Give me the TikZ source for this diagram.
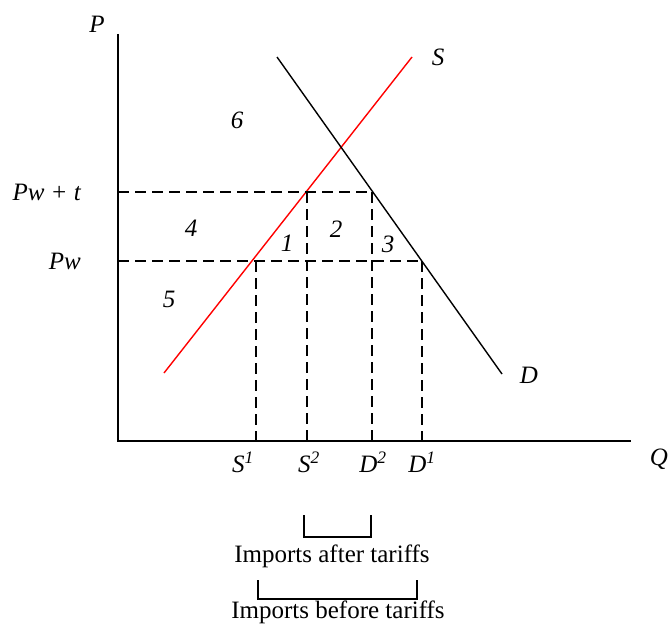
\documentclass[tikz,border=0pt]{standalone}
\usepackage{fontspec}
\setmainfont{Liberation Serif}
\begin{document}
\begin{tikzpicture}[x=1pt,y=-1pt,
  lbl/.style={font=\fontsize{25}{27}\selectfont\itshape, inner sep=0pt},
  txt/.style={font=\fontsize{25}{27}\selectfont, inner sep=0pt},
  axis/.style={line width=1.8pt},
  curve/.style={line width=1.4pt},
  dsh/.style={line width=1.4pt, dash pattern=on 11pt off 6pt},
  brk/.style={line width=1.3pt}]
\useasboundingbox (0,0) rectangle (669,626);
% axes
\coordinate (O) at (118,441);
\coordinate (Ptop) at (118,34);
\coordinate (Qend) at (631,441);
\draw[axis] (Ptop) -- (O) -- (Qend);
\node[lbl] (Plab) at (97,24) {P};
\node[lbl] (Qlab) at (659,459) {Q};
% supply and demand
\coordinate (S0) at (164,373);
\coordinate (S1end) at (412,57);
\coordinate (D0) at (277,57);
\coordinate (D1end) at (502,374);
\draw[curve, red] (S0) -- (S1end);
\draw[curve] (D0) -- (D1end);
\node[lbl] (Slab) at (438,57) {S};
\node[lbl] (Dlab) at (529,375) {D};
% price lines
\coordinate (Pwt0) at (118,192);
\coordinate (Pwt1) at (372,192);
\coordinate (Pw0) at (118,261);
\coordinate (Pw1) at (422,261);
\draw[dsh] (Pwt0) -- (Pwt1);
\draw[dsh] (Pw0) -- (Pw1);
\node[lbl, anchor=east] (Pwtlab) at (81,192) {Pw + t};
\node[lbl, anchor=east] (Pwlab) at (81,261) {Pw};
% vertical lines
\coordinate (s1t) at (256,261); \coordinate (s1b) at (256,441);
\coordinate (s2t) at (307,192); \coordinate (s2b) at (307,441);
\coordinate (d2t) at (372,192); \coordinate (d2b) at (372,441);
\coordinate (d1t) at (422,261); \coordinate (d1b) at (422,441);
\draw[dsh] (s1t) -- (s1b);
\draw[dsh] (s2t) -- (s2b);
\draw[dsh] (d2t) -- (d2b);
\draw[dsh] (d1t) -- (d1b);
% quantity labels
\node[lbl] (S1lab) at (243,462) {S\textsuperscript{1}};
\node[lbl] (S2lab) at (309,462) {S\textsuperscript{2}};
\node[lbl] (D2lab) at (373,462) {D\textsuperscript{2}};
\node[lbl] (D1lab) at (422,462) {D\textsuperscript{1}};
% area numbers
\node[lbl] (a6) at (237,120) {6};
\node[lbl] (a4) at (191,228) {4};
\node[lbl] (a1) at (287,243) {1};
\node[lbl] (a2) at (336,229) {2};
\node[lbl] (a3) at (388,244) {3};
\node[lbl] (a5) at (169,299) {5};
% brackets
\coordinate (b1a) at (304,515); \coordinate (b1b) at (304,537);
\coordinate (b1c) at (371,537); \coordinate (b1d) at (371,515);
\draw[brk] (b1a) -- (b1b) -- (b1c) -- (b1d);
\node[txt] (after) at (332,556) {Imports after tariffs};
\coordinate (b2a) at (258,580); \coordinate (b2b) at (258,599);
\coordinate (b2c) at (417,599); \coordinate (b2d) at (417,580);
\draw[brk] (b2a) -- (b2b) -- (b2c) -- (b2d);
\node[txt] (before) at (338,612) {Imports before tariffs};
\end{tikzpicture}
\end{document}
